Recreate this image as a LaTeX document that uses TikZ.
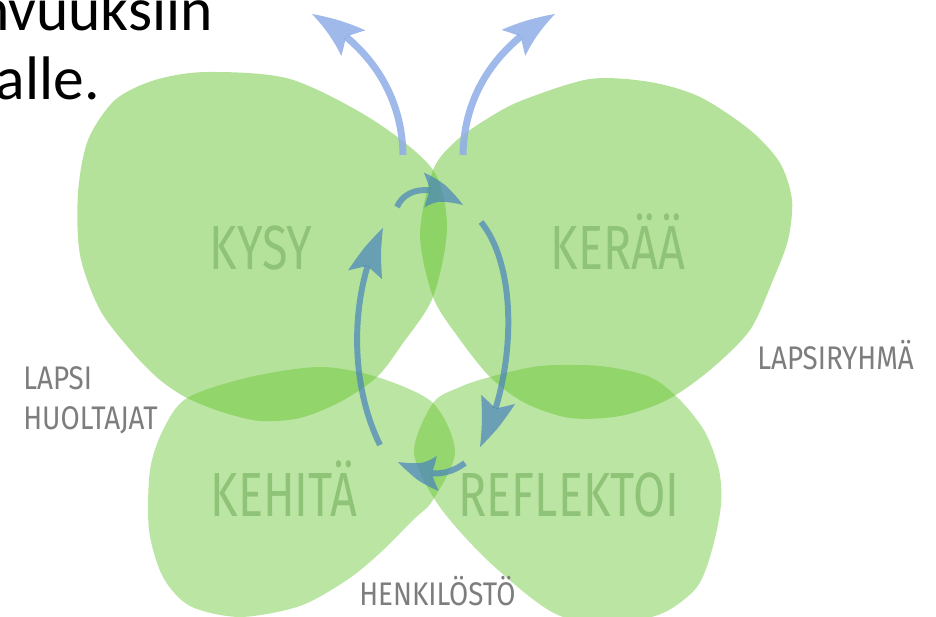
\documentclass[tikz,border=0pt]{standalone}
\usepackage{fontspec}
\setmainfont{Carlito}
\newfontfamily\dinfont[FakeStretch=0.75]{Fira Sans}
\newfontfamily\sidefont[FakeStretch=0.85]{Fira Sans}
\usetikzlibrary{arrows.meta,bending}
\definecolor{leafgreen}{RGB}{100,195,45}
\definecolor{leaftext}{RGB}{143,195,120}
\definecolor{skyblue}{RGB}{143,173,231}
\definecolor{loopblue}{RGB}{72,131,190}
\definecolor{sidegray}{RGB}{125,125,125}

\begin{document}
\begin{tikzpicture}[x=0.02cm,y=-0.02cm,
  leaf/.style={fill=leafgreen,fill opacity=0.48},
  lowleaf/.style={fill=leafgreen,fill opacity=0.44},
  leafname/.style={text=leaftext,font=\dinfont\fontsize{35.5}{40}\selectfont,inner sep=0pt,anchor=base},
  side/.style={text=sidegray,font=\sidefont\fontsize{18.6}{22}\selectfont,inner sep=0pt,anchor=base west},
  slide/.style={font=\fontsize{35}{42}\selectfont,inner sep=0pt,anchor=base east},
  outarrow/.style={draw=skyblue,opacity=0.85,line width=4pt,-{Stealth[length=30pt,width=20pt,inset=6pt,line width=0pt,bend]}},
  looparrow/.style={draw=loopblue,opacity=0.7,line width=3.4pt,-{Stealth[length=28pt,width=20pt,inset=5pt,line width=0pt,bend]}}]
\clip (0,0) rectangle (936,617);

\node[slide] (line1) at (213,31) {vahvuuksiin};
\node[slide] (line2) at (100,100) {alle.};

\fill[leaf] plot[smooth cycle] coordinates {(207,72) (290,79) (373,120) (433,170) (447,228) (433,297) (403,343) (377,377) (340,402) (300,418) (260,421) (222,412) (187,398) (160,380) (133,353) (100,310) (80,255) (78,193) (88,140) (115,100) (155,80)};
\fill[leaf] plot[smooth cycle] coordinates {(433,170) (457,140) (490,117) (523,100) (590,79) (650,82) (700,97) (750,130) (780,163) (792,200) (788,240) (773,280) (750,330) (710,370) (667,400) (620,416) (570,418) (525,403) (490,377) (458,337) (433,297) (420,235)};
\fill[lowleaf] plot[smooth cycle] coordinates {(187,398) (250,377) (320,367) (377,377) (433,403) (455,452) (433,500) (413,520) (380,553) (347,580) (300,606) (240,617) (190,606) (163,577) (149,530) (150,470) (163,430)};
\fill[lowleaf] plot[smooth cycle] coordinates {(490,377) (540,366) (600,366) (650,377) (680,400) (705,432) (719,470) (721,505) (712,550) (697,587) (663,613) (610,625) (563,617) (530,597) (480,553) (437,503) (414,452) (433,403) (460,387)};

\node[leafname] (kysy) at (261,270) {KYSY};
\node[leafname] (keraa) at (618,270) {KERÄÄ};
\node[leafname] (kehita) at (284,517) {KEHITÄ};
\node[leafname] (reflektoi) at (569,517) {REFLEKTOI};

\node[side] (lapsi) at (23,390) {LAPSI};
\node[side] (huoltajat) at (23,430) {HUOLTAJAT};
\node[side] (ryhma) at (757,370) {LAPSIRYHMÄ};
\node[side] (henkilosto) at (359,605) {HENKILÖSTÖ};

\coordinate (outL0) at (403,155);
\coordinate (outL1) at (312,14);
\coordinate (outR0) at (463,155);
\coordinate (outR1) at (555,14);
\draw[outarrow] (outL0) .. controls (402,95) and (370,45) .. (outL1);
\draw[outarrow] (outR0) .. controls (464,95) and (496,45) .. (outR1);

\coordinate (topA) at (397,207);
\coordinate (topB) at (463,205);
\coordinate (rightA) at (481,222);
\coordinate (rightB) at (480,447);
\coordinate (botA) at (465,463);
\coordinate (botB) at (398,462);
\coordinate (leftA) at (380,445);
\coordinate (leftB) at (383,228);
\draw[looparrow] (topA) .. controls (405,188) and (432,182) .. (topB);
\draw[looparrow] (rightA) .. controls (520,270) and (515,380) .. (rightB);
\draw[looparrow] (botA) .. controls (450,474) and (430,480) .. (botB);
\draw[looparrow] (leftA) .. controls (348,380) and (350,290) .. (leftB);
\end{tikzpicture}
\end{document}
